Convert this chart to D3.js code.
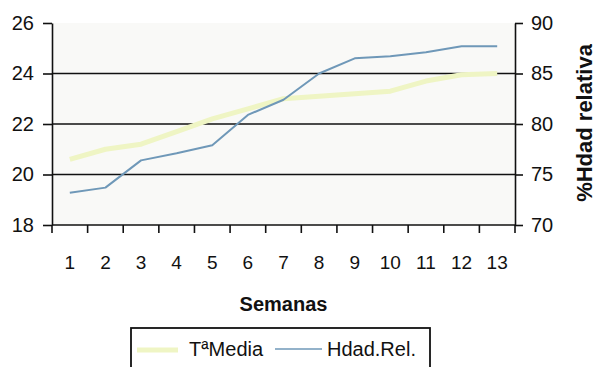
<!DOCTYPE html>
<html>
<head>
<meta charset="utf-8">
<script src="https://cdn.jsdelivr.net/npm/d3@7"></script>
<style>
  html, body { margin: 0; padding: 0; background: #ffffff; }
  svg { display: block; font-family: "Liberation Sans", Arial, sans-serif; }
</style>
</head>
<body>
<svg id="chart" width="597" height="367"></svg>
<script>
// Weekly mean temperature and relative humidity
const semanas = ["1","2","3","4","5","6","7","8","9","10","11","12","13"];
const tMedia  = [20.6, 21.0, 21.2, 21.7, 22.2, 22.6, 23.0, 23.1, 23.2, 23.3, 23.7, 23.95, 24.0];
const hdadRel = [73.2, 73.7, 76.4, 77.1, 77.9, 80.9, 82.4, 85.0, 86.5, 86.7, 87.1, 87.7, 87.7];
const leftTicks  = [18, 20, 22, 24, 26];
const rightTicks = [70, 75, 80, 85, 90];

const svg = d3.select("#chart");
const m = { left: 52, right: 515, top: 23, bottom: 225 };

const x = d3.scaleBand().domain(semanas).range([m.left, m.right]);
const yL = d3.scaleLinear().domain([18, 26]).range([m.bottom, m.top]);
const yR = d3.scaleLinear().domain([70, 90]).range([m.bottom, m.top]);

// plot area
svg.append("rect")
  .attr("x", m.left).attr("y", m.top)
  .attr("width", m.right - m.left).attr("height", m.bottom - m.top)
  .attr("fill", "#f9f9f7");

// horizontal gridlines
svg.append("g")
  .selectAll("line")
  .data(leftTicks.filter(d => d > 18 && d < 26))
  .join("line")
  .attr("x1", m.left).attr("x2", m.right)
  .attr("y1", d => yL(d)).attr("y2", d => yL(d))
  .attr("stroke", "#111").attr("stroke-width", 1.6);

// series
const line = (ys, data) => d3.line()
  .x((d, i) => x(semanas[i]) + x.bandwidth() / 2)
  .y(d => ys(d))(data);

svg.append("path")
  .attr("d", line(yL, tMedia))
  .attr("fill", "none").attr("stroke", "#eff5c4")
  .attr("stroke-width", 5).attr("stroke-linejoin", "round");

svg.append("path")
  .attr("d", line(yR, hdadRel))
  .attr("fill", "none").attr("stroke", "#6f98b8")
  .attr("stroke-width", 2).attr("stroke-linejoin", "round");

// axes
const styleAxis = (g, size) => {
  g.select(".domain").attr("stroke", "#111").attr("stroke-width", 1.6);
  g.selectAll(".tick line").attr("stroke", "#111").attr("stroke-width", 1.6);
  g.selectAll(".tick text").attr("fill", "#111").attr("font-size", size);
};

svg.append("g")
  .attr("transform", `translate(${m.left},0)`)
  .call(d3.axisLeft(yL).tickValues(leftTicks).tickSize(9).tickSizeOuter(0).tickPadding(9))
  .call(g => styleAxis(g, 20));

svg.append("g")
  .attr("transform", `translate(${m.right},0)`)
  .call(d3.axisRight(yR).tickValues(rightTicks).tickSize(8).tickSizeOuter(0).tickPadding(8))
  .call(g => styleAxis(g, 20));

// bottom axis: ticks on band boundaries, labels at band centres
const xg = svg.append("g").attr("transform", `translate(0,${m.bottom})`);
xg.append("line")
  .attr("x1", m.left).attr("x2", m.right)
  .attr("stroke", "#111").attr("stroke-width", 1.6);
xg.selectAll("line.tk")
  .data(semanas.concat(["end"]))
  .join("line").attr("class", "tk")
  .attr("x1", (d, i) => i < semanas.length ? x(d) : m.right)
  .attr("x2", (d, i) => i < semanas.length ? x(d) : m.right)
  .attr("y1", 0).attr("y2", 8)
  .attr("stroke", "#111").attr("stroke-width", 1.6);
xg.selectAll("text")
  .data(semanas)
  .join("text")
  .attr("x", d => x(d) + x.bandwidth() / 2)
  .attr("y", 44)
  .attr("text-anchor", "middle")
  .attr("font-size", 19)
  .attr("fill", "#111")
  .text(d => d);

// axis titles
svg.append("text")
  .attr("x", (m.left + m.right) / 2).attr("y", 311)
  .attr("text-anchor", "middle")
  .attr("font-size", 20).attr("font-weight", "bold").attr("fill", "#111")
  .text("Semanas");

svg.append("text")
  .attr("transform", "translate(592,123) rotate(-90)")
  .attr("text-anchor", "middle")
  .attr("font-size", 22).attr("font-weight", "bold").attr("fill", "#111")
  .text("%Hdad relativa");

// legend
const lg = svg.append("g");
lg.append("rect")
  .attr("x", 131).attr("y", 328).attr("width", 299).attr("height", 60)
  .attr("fill", "#ffffff").attr("stroke", "#111").attr("stroke-width", 1.8);
lg.append("line")
  .attr("x1", 137).attr("x2", 178).attr("y1", 350).attr("y2", 350)
  .attr("stroke", "#eff5c4").attr("stroke-width", 5);
lg.append("text")
  .attr("x", 189).attr("y", 356).attr("font-size", 20).attr("fill", "#111")
  .text("TªMedia");
lg.append("line")
  .attr("x1", 275).attr("x2", 322).attr("y1", 349).attr("y2", 349)
  .attr("stroke", "#6f98b8").attr("stroke-width", 1.5);
lg.append("text")
  .attr("x", 327).attr("y", 356).attr("font-size", 20).attr("fill", "#111")
  .text("Hdad.Rel.");
</script>
</body>
</html>
